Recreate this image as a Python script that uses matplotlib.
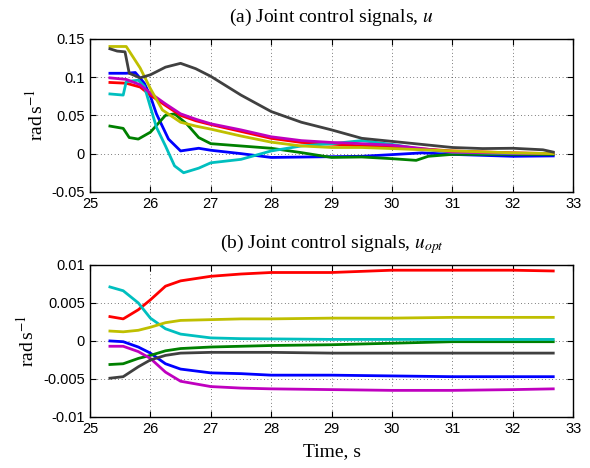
import matplotlib
matplotlib.use("Agg")
import matplotlib.pyplot as plt

plt.rcParams["mathtext.fontset"] = "stix"
plt.rcParams["font.family"] = "Liberation Sans"

# (a) joint control signals u
t_a_blue = [25.33, 25.6, 25.75, 25.9, 26.0, 26.1, 26.3, 26.5, 26.8, 27.0, 27.5, 28.0, 28.5, 29.0, 29.5, 30.0, 30.5, 31.0, 32.0, 32.67]
u_blue = [0.105, 0.105, 0.106, 0.092, 0.075, 0.052, 0.019, 0.0035, 0.007, 0.0044, 0.0, -0.005, -0.0045, -0.004, -0.0035, -0.0013, 0.001, -0.001, -0.0035, -0.003]

t_a_green = [25.33, 25.55, 25.65, 25.8, 26.0, 26.25, 26.4, 26.6, 26.8, 27.0, 27.5, 28.0, 28.5, 29.0, 29.5, 30.0, 30.4, 30.6, 31.0, 32.0, 32.67]
u_green = [0.036, 0.033, 0.021, 0.019, 0.028, 0.050, 0.052, 0.039, 0.021, 0.013, 0.010, 0.007, 0.0013, -0.005, -0.0044, -0.0066, -0.0088, -0.0035, -0.001, -0.001, -0.001]

t_a_red = [25.33, 25.6, 25.83, 26.0, 26.25, 26.5, 26.75, 27.0, 27.5, 28.0, 28.5, 29.0, 29.5, 30.0, 31.0, 32.0, 32.67]
u_red = [0.093, 0.092, 0.087, 0.0765, 0.063, 0.050, 0.043, 0.038, 0.029, 0.020, 0.0146, 0.0124, 0.010, 0.0088, 0.0035, 0.001, 0.0]

t_a_cyan = [25.33, 25.55, 25.6, 25.8, 25.9, 26.0, 26.1, 26.25, 26.4, 26.55, 26.8, 27.0, 27.5, 28.0, 28.5, 29.0, 29.5, 30.0, 30.5, 31.0, 32.0, 32.67]
u_cyan = [0.078, 0.0765, 0.094, 0.096, 0.088, 0.061, 0.0345, 0.010, -0.016, -0.025, -0.019, -0.012, -0.0075, 0.0035, 0.010, 0.013, 0.017, 0.012, 0.0057, 0.0017, 0.0, 0.0]

t_a_magenta = [25.33, 25.6, 25.83, 26.0, 26.25, 26.5, 26.75, 27.0, 27.5, 28.0, 28.5, 29.0, 29.5, 30.0, 30.5, 31.0, 32.0, 32.67]
u_magenta = [0.099, 0.097, 0.090, 0.079, 0.065, 0.052, 0.045, 0.039, 0.031, 0.022, 0.017, 0.0146, 0.013, 0.011, 0.0066, 0.002, 0.0005, 0.0]

t_a_yellow = [25.33, 25.6, 25.83, 26.0, 26.2, 26.5, 26.75, 27.0, 27.5, 28.0, 28.5, 29.0, 29.5, 30.0, 31.0, 32.0, 32.67]
u_yellow = [0.14, 0.14, 0.112, 0.085, 0.057, 0.041, 0.036, 0.032, 0.023, 0.015, 0.010, 0.008, 0.008, 0.0066, 0.0035, 0.001, 0.0]

t_a_black = [25.33, 25.45, 25.58, 25.65, 25.83, 26.0, 26.25, 26.5, 26.75, 27.0, 27.5, 28.0, 28.5, 29.0, 29.5, 30.0, 30.5, 31.0, 31.5, 32.0, 32.5, 32.67]
u_black = [0.137, 0.134, 0.133, 0.105, 0.099, 0.103, 0.113, 0.118, 0.111, 0.101, 0.0765, 0.055, 0.041, 0.031, 0.020, 0.016, 0.012, 0.008, 0.0066, 0.007, 0.005, 0.002]

# (b) joint control signals u_opt
t_b = [25.33, 25.55, 25.8, 26.0, 26.25, 26.5, 27.0, 27.5, 28.0, 29.0, 30.0, 31.0, 32.0, 32.67]
uo_blue = [0.0, -0.0001, -0.0008, -0.0016, -0.003, -0.0037, -0.0042, -0.0043, -0.0045, -0.0045, -0.0046, -0.0047, -0.0047, -0.0047]
uo_green = [-0.0031, -0.0030, -0.0023, -0.0019, -0.0013, -0.0010, -0.0008, -0.0007, -0.0006, -0.0005, -0.0003, -0.0001, -0.0001, -0.0001]
uo_red = [0.0032, 0.0029, 0.0041, 0.0054, 0.0072, 0.0079, 0.0085, 0.0088, 0.0090, 0.0090, 0.0093, 0.0093, 0.0093, 0.0092]
uo_cyan = [0.0071, 0.0066, 0.0050, 0.0030, 0.0016, 0.0009, 0.0004, 0.0003, 0.00027, 0.0002, 0.0002, 0.0002, 0.0002, 0.0002]
uo_magenta = [-0.0007, -0.0007, -0.0014, -0.0023, -0.0041, -0.0053, -0.0060, -0.0062, -0.0063, -0.0064, -0.0065, -0.0065, -0.0064, -0.0063]
uo_yellow = [0.0013, 0.0012, 0.0014, 0.0018, 0.0024, 0.0027, 0.0028, 0.0029, 0.0029, 0.0030, 0.0030, 0.0031, 0.0031, 0.0031]
uo_black = [-0.0049, -0.0047, -0.0034, -0.0025, -0.0019, -0.0016, -0.0015, -0.0015, -0.0015, -0.0016, -0.0016, -0.0016, -0.0016, -0.0016]

colors = {"blue": (0, 0, 1), "green": (0, 0.5, 0), "red": (1, 0, 0),
          "cyan": (0, 0.75, 0.75), "magenta": (0.75, 0, 0.75),
          "yellow": (0.75, 0.75, 0), "black": (0.25, 0.25, 0.25)}

fig = plt.figure(figsize=(5.9, 4.68), dpi=100)
ax1 = fig.add_axes([0.1525, 0.590, 0.819, 0.327])
ax2 = fig.add_axes([0.1525, 0.109, 0.819, 0.325])

lw = 2.0
ax1.plot(t_a_blue, u_blue, color=colors["blue"], lw=lw)
ax1.plot(t_a_green, u_green, color=colors["green"], lw=lw)
ax1.plot(t_a_red, u_red, color=colors["red"], lw=lw)
ax1.plot(t_a_cyan, u_cyan, color=colors["cyan"], lw=lw)
ax1.plot(t_a_magenta, u_magenta, color=colors["magenta"], lw=lw)
ax1.plot(t_a_yellow, u_yellow, color=colors["yellow"], lw=lw)
ax1.plot(t_a_black, u_black, color=colors["black"], lw=lw)

ax2.plot(t_b, uo_blue, color=colors["blue"], lw=lw)
ax2.plot(t_b, uo_green, color=colors["green"], lw=lw)
ax2.plot(t_b, uo_red, color=colors["red"], lw=lw)
ax2.plot(t_b, uo_cyan, color=colors["cyan"], lw=lw)
ax2.plot(t_b, uo_magenta, color=colors["magenta"], lw=lw)
ax2.plot(t_b, uo_yellow, color=colors["yellow"], lw=lw)
ax2.plot(t_b, uo_black, color=colors["black"], lw=lw)

xticks = [25, 26, 27, 28, 29, 30, 31, 32, 33]
ax1.set_xlim(25, 33)
ax1.set_ylim(-0.05, 0.15)
ax1.set_yticks([-0.05, 0, 0.05, 0.1, 0.15])
ax1.set_yticklabels(["-0.05", "0", "0.05", "0.1", "0.15"])
ax2.set_xlim(25, 33)
ax2.set_ylim(-0.01, 0.01)
ax2.set_yticks([-0.01, -0.005, 0, 0.005, 0.01])
ax2.set_yticklabels(["-0.01", "-0.005", "0", "0.005", "0.01"])

serif = "Liberation Serif"
for ax in (ax1, ax2):
    ax.set_xticks(xticks)
    ax.set_xticklabels([str(x) for x in xticks])
    ax.grid(True, linestyle=(0, (1, 4)), color="black", linewidth=0.5)
    ax.tick_params(direction="in", top=True, right=True, length=4, width=0.8, labelsize=10.5)
    for s in ax.spines.values():
        s.set_linewidth(1.0)
    ax.set_ylabel(r"rad$\,$s$^{-1}$", family=serif, fontsize=14)

ax1.set_title(r"(a) Joint control signals, $u$", family=serif, fontsize=14, pad=12)
ax2.set_title(r"(b) Joint control signals, $u_{opt}$", family=serif, fontsize=14, pad=12)
ax2.set_xlabel("Time, s", family=serif, fontsize=14, labelpad=5)

plt.savefig("out.png", dpi=100)
